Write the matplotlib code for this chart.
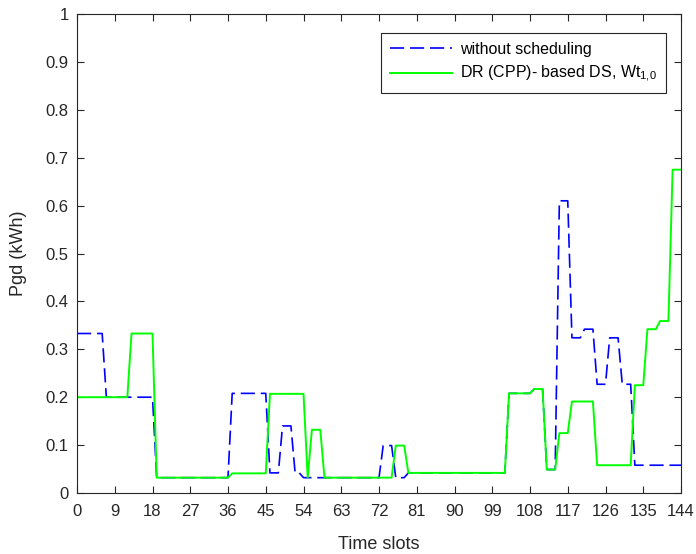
import numpy as np
import matplotlib
matplotlib.use('Agg')
import matplotlib.pyplot as plt

plt.rcParams['font.family'] = ['Liberation Sans', 'DejaVu Sans']

# time slots 0..144
time_slots = np.arange(0, 145)

# grid power without scheduling (kWh)
without_sched = [0.333, 0.333, 0.333, 0.333, 0.333, 0.333, 0.333, 0.2, 0.2, 0.2,
                 0.2, 0.2, 0.2, 0.2, 0.2, 0.2, 0.2, 0.2, 0.2, 0.032,
                 0.032, 0.032, 0.032, 0.032, 0.032, 0.032, 0.032, 0.032, 0.032, 0.032,
                 0.032, 0.032, 0.032, 0.032, 0.032, 0.032, 0.032, 0.208, 0.208, 0.208,
                 0.208, 0.208, 0.208, 0.208, 0.208, 0.208, 0.042, 0.042, 0.042, 0.14,
                 0.14, 0.14, 0.042, 0.042, 0.032, 0.032, 0.032, 0.032, 0.032, 0.032,
                 0.032, 0.032, 0.032, 0.032, 0.032, 0.032, 0.032, 0.032, 0.032, 0.032,
                 0.032, 0.032, 0.032, 0.099, 0.099, 0.099, 0.032, 0.032, 0.032, 0.042,
                 0.042, 0.042, 0.042, 0.042, 0.042, 0.042, 0.042, 0.042, 0.042, 0.042,
                 0.042, 0.042, 0.042, 0.042, 0.042, 0.042, 0.042, 0.042, 0.042, 0.042,
                 0.042, 0.042, 0.042, 0.208, 0.208, 0.208, 0.208, 0.208, 0.208, 0.217,
                 0.217, 0.217, 0.049, 0.049, 0.049, 0.61, 0.61, 0.61, 0.324, 0.324,
                 0.324, 0.342, 0.342, 0.342, 0.227, 0.227, 0.227, 0.324, 0.324, 0.324,
                 0.227, 0.227, 0.227, 0.058, 0.058, 0.058, 0.058, 0.058, 0.058, 0.058,
                 0.058, 0.058, 0.058, 0.058, 0.058]

# grid power with DR (CPP) based scheduling (kWh)
dr_cpp = [0.2, 0.2, 0.2, 0.2, 0.2, 0.2, 0.2, 0.2, 0.2, 0.2,
          0.2, 0.2, 0.2, 0.333, 0.333, 0.333, 0.333, 0.333, 0.333, 0.032,
          0.032, 0.032, 0.032, 0.032, 0.032, 0.032, 0.032, 0.032, 0.032, 0.032,
          0.032, 0.032, 0.032, 0.032, 0.032, 0.032, 0.032, 0.041, 0.041, 0.041,
          0.041, 0.041, 0.041, 0.041, 0.041, 0.041, 0.207, 0.207, 0.207, 0.207,
          0.207, 0.207, 0.207, 0.207, 0.207, 0.032, 0.132, 0.132, 0.132, 0.032,
          0.032, 0.032, 0.032, 0.032, 0.032, 0.032, 0.032, 0.032, 0.032, 0.032,
          0.032, 0.032, 0.032, 0.032, 0.032, 0.032, 0.099, 0.099, 0.099, 0.042,
          0.042, 0.042, 0.042, 0.042, 0.042, 0.042, 0.042, 0.042, 0.042, 0.042,
          0.042, 0.042, 0.042, 0.042, 0.042, 0.042, 0.042, 0.042, 0.042, 0.042,
          0.042, 0.042, 0.042, 0.208, 0.208, 0.208, 0.208, 0.208, 0.208, 0.217,
          0.217, 0.217, 0.049, 0.049, 0.049, 0.125, 0.125, 0.125, 0.191, 0.191,
          0.191, 0.191, 0.191, 0.191, 0.058, 0.058, 0.058, 0.058, 0.058, 0.058,
          0.058, 0.058, 0.058, 0.225, 0.225, 0.225, 0.342, 0.342, 0.342, 0.359,
          0.359, 0.359, 0.675, 0.675, 0.675]

x_ticks = list(range(0, 145, 9))
y_ticks = [0, 0.1, 0.2, 0.3, 0.4, 0.5, 0.6, 0.7, 0.8, 0.9, 1]
y_tick_labels = ['0', '0.1', '0.2', '0.3', '0.4', '0.5', '0.6', '0.7', '0.8', '0.9', '1']

fig = plt.figure(figsize=(6.96, 5.54), dpi=100)
ax = fig.add_axes([77 / 696, 1 - 493 / 554, 604 / 696, 479 / 554])

line1, = ax.plot(time_slots, without_sched, color='#0000ff', linewidth=1.2,
                 linestyle='--', label='without scheduling')
line1.set_dashes([8.5, 3.5])
ax.plot(time_slots, dr_cpp, color='#00ff00', linewidth=1.4,
        label='DR (CPP)- based DS, Wt$_{\\mathregular{1{,}0}}$')

ax.set_xlim(0, 144)
ax.set_ylim(0, 1)
ax.set_xticks(x_ticks)
ax.set_yticks(y_ticks)
ax.set_yticklabels(y_tick_labels)

for s in ax.spines.values():
    s.set_color('#262626')
    s.set_linewidth(0.8)
ax.tick_params(direction='in', top=True, right=True, length=5, width=0.8,
               colors='#262626', labelsize=12, pad=6)
ax.tick_params(axis='x', pad=8)

ax.set_xlabel('Time slots', fontsize=13, color='#262626', labelpad=12)
ax.set_ylabel('Pgd (kWh)', fontsize=13, color='#262626', labelpad=13)

leg = ax.legend(loc='upper right', bbox_to_anchor=(0.975, 0.960), fontsize=11.5,
                fancybox=False, edgecolor='#262626', framealpha=1,
                handlelength=3.9, handletextpad=0.5, borderpad=0.55,
                labelspacing=0.45, borderaxespad=0)
leg.get_frame().set_linewidth(0.8)

plt.savefig('out.png', dpi=100)
